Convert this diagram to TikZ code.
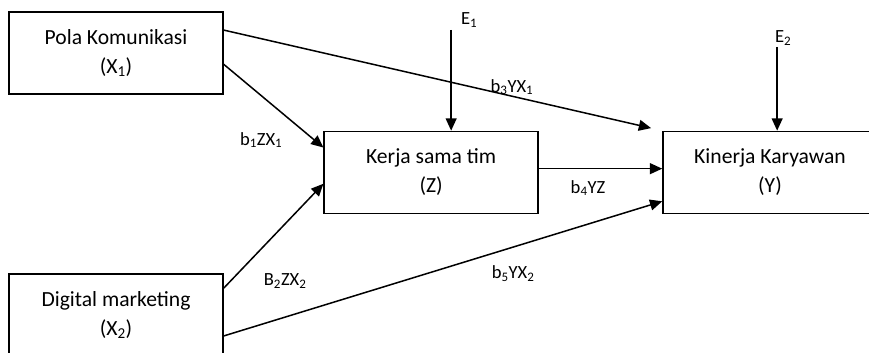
\documentclass[tikz,border=0pt]{standalone}
\usepackage{fontspec}
\setmainfont{Carlito}
\usepackage{tikz}
\usetikzlibrary{arrows.meta}
\newcommand{\lo}[1]{\textsubscript{#1}}
\tikzset{
>={Triangle[length=4.3mm,width=3.8mm]}, % filled heads as in the reference
every path/.style={line width=1.5pt}, % line weight of boxes and arrows
varbox/.style={draw, rectangle, align=center, minimum width=7.49cm, minimum height=2.87cm, font=\fontsize{21.5}{29}\selectfont}, % the variable boxes
coef/.style={draw=none, font=\fontsize{18.5}{20}\selectfont}, % path coefficients
}
\begin{document}
\begin{tikzpicture}
\useasboundingbox (0,0) rectangle (30.415,12.355);
\node[varbox] at (4.06,10.5) (polkom) {Pola Komunikasi\\(X\lo{1})};
\node[varbox] at (4.06,1.33) (digmar) {Digital marketing\\(X\lo{2})};
\node[varbox] at (15.09,6.32) (kerja) {Kerja sama tim\\(Z)};
\node[varbox] at (26.95,6.32) (kinerja) {Kinerja Karyawan\\(Y)};
\coordinate (e1) at (15.79,11.31);
\coordinate (e2) at (27.2,10.71);
\node[coef] at (16.42,11.66) {E\lo{1}};
\node[coef] at (27.41,11.03) {E\lo{2}};
\node[coef] at (9.14,7.46) {b\lo{1}ZX\lo{1}};
\node[coef] at (17.92,9.31) {b\lo{3}YX\lo{1}};
\node[coef] at (20.58,5.78) {b\lo{4}YZ};
\node[coef] at (9.98,2.52) {B\lo{2}ZX\lo{2}};
\node[coef] at (17.96,2.77) {b\lo{5}YX\lo{2}};
\draw[->] (polkom.-6.4) -- (kerja.167.1);
\draw[->, shorten >=0.4cm] (polkom.12.1) -- (kinerja.north west);
\draw[->] (kerja.2.9) -- (kerja.2.9 -| kinerja.west);
\draw[->] (digmar.14.7) -- (kerja.186.7);
\draw[->] (digmar.-11.6) -- (kinerja.195.4);
\draw[->] (e1) -- (e1 |- kerja.north);
\draw[->] (e2) -- (e2 |- kinerja.north);
\end{tikzpicture}
\end{document}
